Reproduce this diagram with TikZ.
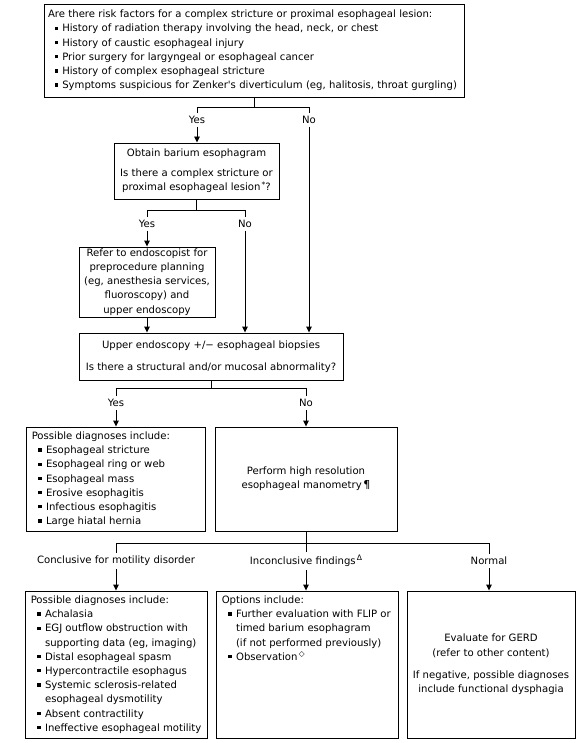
\documentclass[tikz,border=0pt]{standalone}
\usepackage{fontspec}
\setmainfont{DejaVu Sans}
\usetikzlibrary{arrows.meta}
\newcommand\bul{\hspace*{6.5pt}\rule[2pt]{3.3pt}{3.3pt}\hspace*{4.5pt}}
\newcommand\cont{\hspace*{14.3pt}}
\newcommand\supmark[1]{\hspace{1.2pt}\raisebox{3.6pt}{\fontsize{7.6}{8}\selectfont #1}}
\begin{document}
\begin{tikzpicture}[x=1pt,y=-1pt,
  box/.style={draw, line width=0.9pt, inner sep=0pt},
  txt/.style={font=\fontsize{10.1}{14.2}\selectfont, inner sep=0pt},
  lbl/.style={font=\fontsize{10.1}{14.2}\selectfont, inner sep=3pt},
  ln/.style={line width=0.9pt},
  arr/.style={line width=0.9pt, -{Triangle[length=6pt,width=5.5pt]}}]
\useasboundingbox (0,0) rectangle (579,743);
\fill[white] (0,0) rectangle (579,743);

% boxes
\node[box, txt, minimum width=420pt, minimum height=93pt, text width=412pt, inner xsep=4pt, align=left] (b1) at (254,50.5)
 {Are there risk factors for a complex stricture or proximal esophageal lesion:\\
  \bul History of radiation therapy involving the head, neck, or chest\\
  \bul History of caustic esophageal injury\\
  \bul Prior surgery for largyngeal or esophageal cancer\\
  \bul History of complex esophageal stricture\\
  \bul Symptoms suspicious for Zenker\textquotesingle s diverticulum (eg, halitosis, throat gurgling)};

\node[box, txt, minimum width=165pt, minimum height=56pt, align=center] (b2) at (196.5,171)
 {Obtain barium esophagram\\[6pt]Is there a complex stricture or\\proximal esophageal lesion\supmark{*}?};

\node[box, txt, minimum width=136pt, minimum height=70pt, align=center] (br) at (147,282)
 {Refer to endoscopist for\\preprocedure planning\\(eg, anesthesia services,\\fluoroscopy) and\\upper endoscopy};

\node[box, txt, minimum width=264pt, minimum height=47pt, align=center] (b3) at (211,356.5)
 {Upper endoscopy +/− esophageal biopsies\\[8pt]Is there a structural and/or mucosal abnormality?};

\node[box, minimum width=179pt, minimum height=104pt] (b4) at (115.5,479) {};
\node[txt, anchor=north west, align=left] (t4) at ([shift={(6,5)}]b4.north west)
 {Possible diagnoses include:\\
  \bul Esophageal stricture\\
  \bul Esophageal ring or web\\
  \bul Esophageal mass\\
  \bul Erosive esophagitis\\
  \bul Infectious esophagitis\\
  \bul Large hiatal hernia};

\node[box, txt, minimum width=182pt, minimum height=104pt, align=center] (b5) at (306,479)
 {Perform high resolution\\esophageal manometry\,{\fontsize{11}{11}\selectfont ¶}};

\node[box, minimum width=182pt, minimum height=147pt] (b6) at (116,664.5) {};
\node[txt, anchor=north west, align=left] (t6) at ([shift={(6,5)}]b6.north west)
 {Possible diagnoses include:\\
  \bul Achalasia\\
  \bul EGJ outflow obstruction with\\
  \cont supporting data (eg, imaging)\\
  \bul Distal esophageal spasm\\
  \bul Hypercontractile esophagus\\
  \bul Systemic sclerosis-related\\
  \cont esophageal dysmotility\\
  \bul Absent contractility\\
  \bul Ineffective esophageal motility};

\node[box, minimum width=182pt, minimum height=147pt] (b7) at (307,664.5) {};
\node[txt, anchor=north west, align=left] (t7) at ([shift={(6,5)}]b7.north west)
 {Options include:\\
  \bul Further evaluation with FLIP or\\
  \cont timed barium esophagram\\
  \cont (if not performed previously)\\
  \bul Observation\supmark{◇}};

\node[box, txt, minimum width=168pt, minimum height=147pt, align=center] (b8) at (491,664.5)
 {Evaluate for GERD\\(refer to other content)\\[8pt]If negative, possible diagnoses\\include functional dysphagia};

% labels
\node[lbl] (y1) at (197,120) {Yes};
\node[lbl] (n1) at (309,120) {No};
\node[lbl] (y2) at (147,224) {Yes};
\node[lbl] (n2) at (245,224) {No};
\node[lbl] (y3) at (116,403) {Yes};
\node[lbl] (n3) at (306,403) {No};
\node[lbl] (c1) at (116,561) {Conclusive for motility disorder};
\node[lbl] (c2) at (306,561) {Inconclusive findings\supmark{Δ}};
\node[lbl] (c3) at (489,561) {Normal};

% junction coordinates
\coordinate (j1) at (254,107);
\coordinate (j2) at (196.5,210);
\coordinate (j3) at (211,388);
\coordinate (j4) at (306,543);

% connectors
\draw[ln] (b1.south) -- (j1);
\draw[ln] (y1.north) -- (y1.north |- j1) -- (n1.north |- j1) -- (n1.north);
\draw[arr] (y1.south) -- (y1.south |- b2.north);
\draw[arr] (n1.south) -- (n1.south |- b3.north);

\draw[ln] (b2.south) -- (j2);
\draw[ln] (y2.north) -- (y2.north |- j2) -- (n2.north |- j2) -- (n2.north);
\draw[arr] (y2.south) -- (y2.south |- br.north);
\draw[arr] (n2.south) -- (n2.south |- b3.north);
\draw[arr] (br.south) -- (br.south |- b3.north);

\draw[ln] (b3.south) -- (j3);
\draw[ln] (y3.north) -- (y3.north |- j3) -- (n3.north |- j3) -- (n3.north);
\draw[arr] (y3.south) -- (y3.south |- b4.north);
\draw[arr] (n3.south) -- (n3.south |- b5.north);

\draw[ln] (b5.south) -- (j4);
\draw[ln] (c1.north) -- (c1.north |- j4) -- (c3.north |- j4) -- (c3.north);
\draw[ln] (j4) -- (c2.north -| j4);
\draw[arr] (c1.south) -- (c1.south |- b6.north);
\draw[arr] (c2.south -| j4) -- (j4 |- b7.north);
\draw[arr] (c3.south) -- (c3.south |- b8.north);
\end{tikzpicture}
\end{document}
